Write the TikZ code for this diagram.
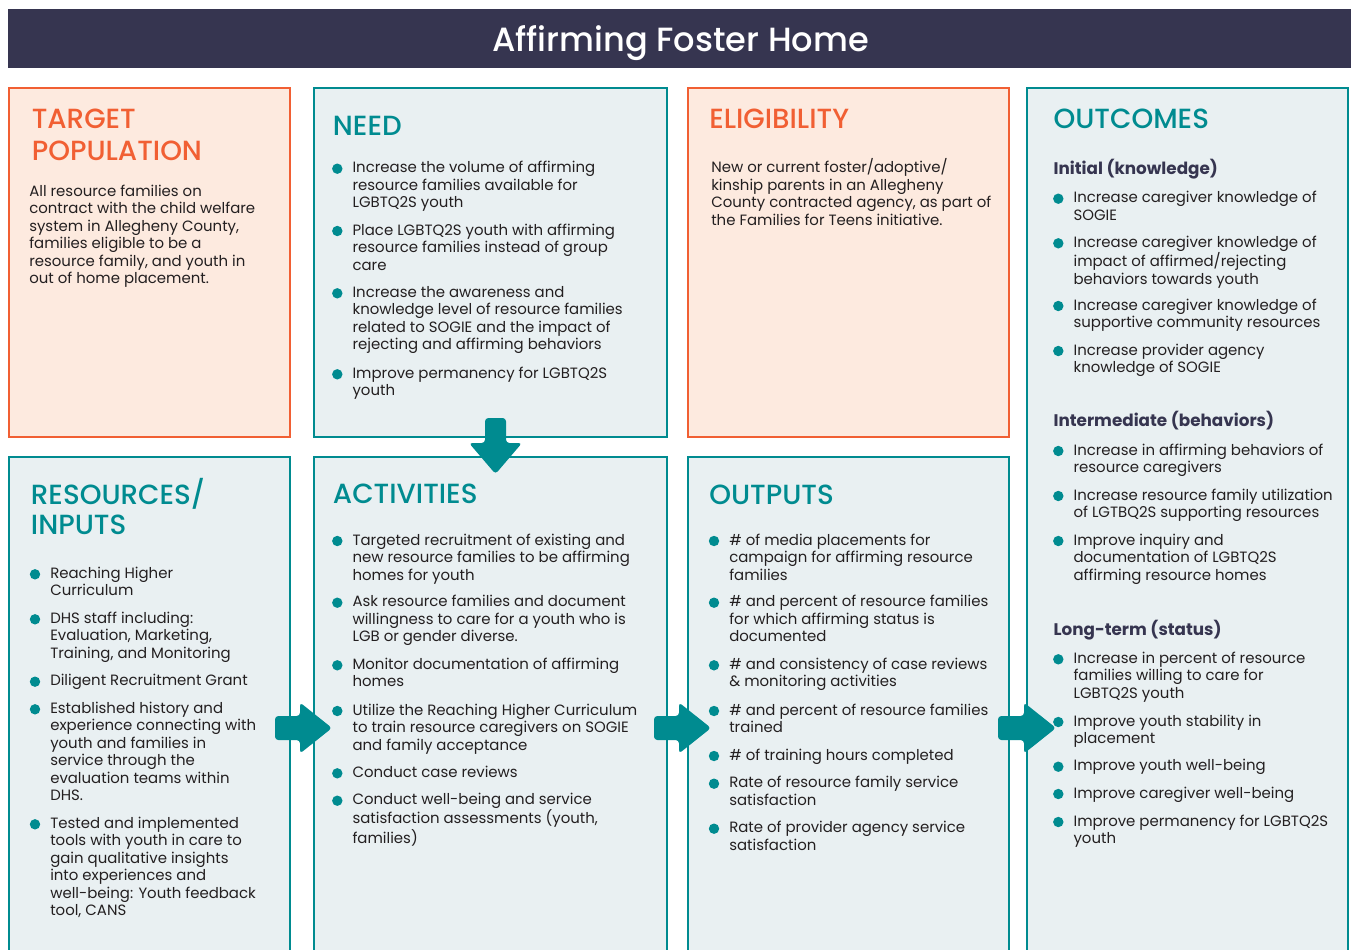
\documentclass[tikz,border=0pt]{standalone}
\usepackage{fontspec}
\setmainfont{Poppins}
\newfontfamily\medfont{Poppins Medium}
\usetikzlibrary{calc}
\definecolor{navy}{HTML}{363550}
\definecolor{orangec}{HTML}{F15F33}
\definecolor{orangefill}{HTML}{FDEADF}
\definecolor{tealc}{HTML}{008B90}
\definecolor{tealfill}{HTML}{E9F0F2}
\definecolor{bodyc}{HTML}{231F20}
\newcommand\tx[1]{\begin{tabular}[t]{@{}l@{}}#1\end{tabular}}
\tikzset{
  obox/.style={draw=orangec, fill=orangefill, line width=1.9pt},
  tbox/.style={draw=tealc, fill=tealfill, line width=1.9pt},
  body/.style={anchor=base west, inner sep=0pt, text=bodyc, font=\fontsize{11.2}{13.125}\selectfont},
  headtxt/.style={anchor=base west, inner sep=0pt, font=\medfont\fontsize{20.8}{23}\selectfont},
  subhead/.style={anchor=base west, inner sep=0pt, text=navy, font=\bfseries\fontsize{12.6}{14}\selectfont},
  dot/.style={fill=tealc},
  blockarrow/.style={fill=tealc, rounded corners=2.5pt},
}
% bullet: name, x, y, text
\newcommand\bul[4]{%
  \fill[dot] ({#2-15},{#3-4}) circle[radius=5.2];
  \node[body] (#1) at (#2,#3) {\tx{#4}};
}
% right block arrow: shaft left x, tip x, centre y
\newcommand\rarrow[3]{%
  \fill[blockarrow] (#1,{#3-12}) -- ({#2-32},{#3-12}) -- ({#2-32},{#3-25.5}) -- (#2,#3)
     -- ({#2-32},{#3+25.5}) -- ({#2-32},{#3+12}) -- (#1,{#3+12}) -- cycle;
}
\begin{document}
\begin{tikzpicture}[x=0.75pt,y=-0.75pt]
\useasboundingbox (0,0) rectangle (1351,949);
\clip (0,0) rectangle (1351,949);
\fill[white] (0,0) rectangle (1351,949);

% title bar
\fill[navy] (8,9) rectangle (1351,68);
\node[anchor=base, inner sep=0pt, text=white, font=\medfont\fontsize{25.2}{28}\selectfont] (title) at (680.5,51.5) {Affirming Foster Home};

% boxes
\draw[obox] (9,88) rectangle (290,437);
\draw[tbox] (314,88) rectangle (667,437);
\draw[obox] (688,88) rectangle (1009,437);
\draw[tbox] (1027,88) rectangle (1348,980);
\draw[tbox] (9,457) rectangle (290,980);
\draw[tbox] (314,457) rectangle (667,980);
\draw[tbox] (688,457) rectangle (1009,980);

% TARGET POPULATION
\node[headtxt, text=orangec, font=\medfont\fontsize{20.8}{23.8}\selectfont] (tph) at (31.5,128.8) {\tx{TARGET\\POPULATION}};
\node[body] (tpt) at (29,196) {\tx{All resource families on\\contract with the child welfare\\system in Allegheny County,\\families eligible to be a\\resource family, and youth in\\out of home placement.}};

% NEED
\node[headtxt, text=tealc] (needh) at (332.7,135.5) {NEED};
\bul{n1}{352.3}{172.7}{Increase the volume of affirming\\resource families available for\\LGBTQ2S youth}
\bul{n2}{352.3}{235}{Place LGBTQ2S youth with affirming\\resource families instead of group\\care}
\bul{n3}{352.3}{297.3}{Increase the awareness and\\knowledge level of resource families\\related to SOGIE and the impact of\\rejecting and affirming behaviors}
\bul{n4}{352.3}{378.3}{Improve permanency for LGBTQ2S\\youth}

% ELIGIBILITY
\node[headtxt, text=orangec] (eligh) at (709,128.8) {ELIGIBILITY};
\node[body] (eligt) at (711,172.7) {\tx{New or current foster/adoptive/\\kinship parents in an Allegheny\\County contracted agency, as part of\\the Families for Teens initiative.}};

% OUTCOMES
\node[headtxt, text=tealc] (outch) at (1053.3,128.8) {OUTCOMES};
\node[subhead] (s1) at (1053.3,174.3) {Initial (knowledge)};
\bul{o1}{1073.3}{202.7}{Increase caregiver knowledge of\\SOGIE}
\bul{o2}{1073.3}{247.3}{Increase caregiver knowledge of\\impact of affirmed/rejecting\\behaviors towards youth}
\bul{o3}{1073.3}{310}{Increase caregiver knowledge of\\supportive community resources}
\bul{o4}{1073.3}{355}{Increase provider agency\\knowledge of SOGIE}
\node[subhead] (s2) at (1053.3,426.7) {Intermediate (behaviors)};
\bul{o5}{1073.3}{455}{Increase in affirming behaviors of\\resource caregivers}
\bul{o6}{1073.3}{500}{Increase resource family utilization\\of LGTBQ2S supporting resources}
\bul{o7}{1073.3}{545}{Improve inquiry and\\documentation of LGBTQ2S\\affirming resource homes}
\node[subhead] (s3) at (1053.3,635) {Long-term (status)};
\bul{o8}{1073.3}{663.3}{Increase in percent of resource\\families willing to care for\\LGBTQ2S youth}
\bul{o9}{1073.3}{726}{Improve youth stability in\\placement}
\bul{o10}{1073.3}{770.7}{Improve youth well-being}
\bul{o11}{1073.3}{798}{Improve caregiver well-being}
\bul{o12}{1073.3}{826}{Improve permanency for LGBTQ2S\\youth}

% RESOURCES / INPUTS
\node[headtxt, text=tealc, font=\medfont\fontsize{20.8}{22.3}\selectfont] (resh) at (30.7,504.8) {\tx{RESOURCES/\\INPUTS}};
\bul{r1}{50}{578.3}{Reaching Higher\\Curriculum}
\bul{r2}{50}{623.3}{DHS staff including:\\Evaluation, Marketing,\\Training, and Monitoring}
\bul{r3}{50}{685.7}{Diligent Recruitment Grant}
\bul{r4}{50}{713.3}{Established history and\\experience connecting with\\youth and families in\\service through the\\evaluation teams within\\DHS.}
\bul{r5}{50}{828.3}{Tested and implemented\\tools with youth in care to\\gain qualitative insights\\into experiences and\\well-being: Youth feedback\\tool, CANS}

% ACTIVITIES
\node[headtxt, text=tealc] (acth) at (332.7,503.8) {ACTIVITIES};
\bul{a1}{352.3}{545}{Targeted recruitment of existing and\\new resource families to be affirming\\homes for youth}
\bul{a2}{352.3}{606.7}{Ask resource families and document\\willingness to care for a youth who is\\LGB or gender diverse.}
\bul{a3}{352.3}{669.3}{Monitor documentation of affirming\\homes}
\bul{a4}{352.3}{715}{Utilize the Reaching Higher Curriculum\\to train resource caregivers on SOGIE\\and family acceptance}
\bul{a5}{352.3}{777.3}{Conduct case reviews}
\bul{a6}{352.3}{804.7}{Conduct well-being and service\\satisfaction assessments (youth,\\families)}

% OUTPUTS
\node[headtxt, text=tealc] (outph) at (709,504.5) {OUTPUTS};
\bul{p1}{729}{545}{\# of media placements for\\campaign for affirming resource\\families}
\bul{p2}{729}{606.7}{\# and percent of resource families\\for which affirming status is\\documented}
\bul{p3}{729}{669.3}{\# and consistency of case reviews\\\& monitoring activities}
\bul{p4}{729}{715}{\# and percent of resource families\\trained}
\bul{p5}{729}{760}{\# of training hours completed}
\bul{p6}{729}{787.7}{Rate of resource family service\\satisfaction}
\bul{p7}{729}{832.7}{Rate of provider agency service\\satisfaction}

% arrows
\fill[blockarrow] (485,418) -- (506,418) -- (506,443) -- (522,443) -- (495.5,474) -- (469,443) -- (485,443) -- cycle;
\rarrow{275}{332}{728}
\rarrow{654}{711}{728}
\rarrow{998}{1056}{728}
\end{tikzpicture}
\end{document}
